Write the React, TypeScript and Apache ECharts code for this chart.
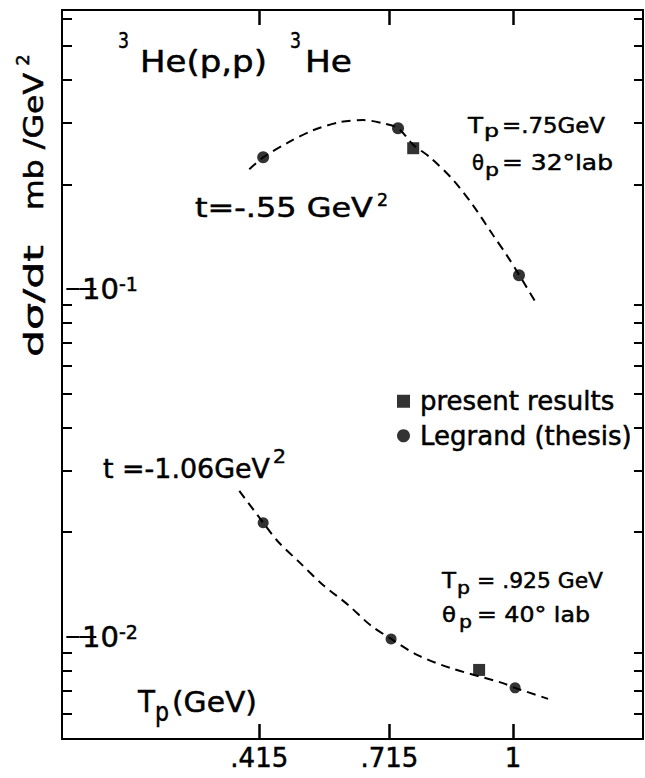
import React, { useEffect, useRef } from 'react';
import * as echarts from 'echarts';

const FONT = '"DejaVu Sans", "Liberation Sans", sans-serif';

// Tp axis (GeV)
const tpMin = -0.04;
const tpMax = 1.3;
const tpTicks = [0.415, 0.715, 1];

// dσ/dt axis (mb/GeV²), logarithmic
const sigmaMin = 0.00509;
const sigmaMax = 0.634;
const sigmaMinorTicks = [
  0.006, 0.007, 0.008, 0.009,
  0.02, 0.03, 0.04, 0.05, 0.06, 0.07, 0.08, 0.09,
  0.2, 0.3, 0.4, 0.5, 0.6,
];
const sigmaLabels = [0.01, 0.1];

// dashed guide curve, t = -.55 GeV²
const curve055Tp = [0.392, 0.424, 0.482, 0.539, 0.602, 0.655, 0.698, 0.735, 0.77, 0.809, 0.862, 0.908, 0.954, 0.986, 1.014, 1.056];
const curve055Sigma = [0.221, 0.239, 0.264, 0.286, 0.302, 0.306, 0.3, 0.29, 0.26, 0.239, 0.206, 0.174, 0.143, 0.125, 0.11, 0.09];

// dashed guide curve, t = -1.06 GeV²
const curve106Tp = [0.369, 0.424, 0.459, 0.509, 0.562, 0.62, 0.671, 0.719, 0.779, 0.855, 0.975, 1.005, 1.081];
const curve106Sigma = [0.0263, 0.0213, 0.01875, 0.01633, 0.01411, 0.01236, 0.01082, 0.00987, 0.00888, 0.00815, 0.00738, 0.00714, 0.00664];

// Legrand (thesis)
const legrandTp = [0.424, 0.735, 1.014, 0.424, 0.719, 1.005];
const legrandSigma = [0.2393, 0.29, 0.1096, 0.0213, 0.00987, 0.00714];

// present results
const presentTp = [0.77, 0.922];
const presentSigma = [0.254, 0.00804];

let measureCtx: CanvasRenderingContext2D | null = null;
function textWidth(s: string, size: number): number {
  if (!measureCtx) measureCtx = document.createElement('canvas').getContext('2d');
  if (!measureCtx) return s.length * size * 0.6;
  measureCtx.font = `${size}px ${FONT}`;
  return measureCtx.measureText(s).width;
}

// text with left edge at x, baseline at y, stretched to a given width
function label(s: string, x: number, baseline: number, size: number, width?: number) {
  const natural = textWidth(s, size);
  return {
    type: 'text',
    x,
    y: baseline - 0.346 * size,
    scaleX: width ? width / natural : 1,
    silent: true,
    style: {
      fill: '#000',
      stroke: '#000',
      lineWidth: 0.5,
      text: s,
      fontSize: size,
      fontFamily: FONT,
      align: 'left',
      verticalAlign: 'middle',
    },
  };
}

// vertical text (reads bottom to top) centred on (cx, cy)
function vlabel(s: string, cx: number, cy: number, size: number, length?: number) {
  const natural = textWidth(s, size);
  return {
    type: 'text',
    x: cx,
    y: cy,
    rotation: Math.PI / 2,
    scaleX: length ? length / natural : 1,
    silent: true,
    style: {
      fill: '#000',
      stroke: '#000',
      lineWidth: 0.5,
      text: s,
      fontSize: size,
      fontFamily: FONT,
      align: 'center',
      verticalAlign: 'middle',
    },
  };
}

const zip = (xs: number[], ys: number[]) => xs.map((x, i) => [x, ys[i]]);

export default function App() {
  const ref = useRef<HTMLDivElement>(null);

  useEffect(() => {
    if (!ref.current) return;
    const chart = echarts.init(ref.current, null, { renderer: 'svg' });

    const axisLine = () => ({ show: true, onZero: false, lineStyle: { color: '#000', width: 2 } });
    const noLine = () => ({ show: false });
    const tpTick = () => ({
      show: true, inside: true, length: 15, customValues: tpTicks,
      lineStyle: { color: '#000', width: 2.5 },
    });
    const minorTick = (len: number) => ({
      show: true, inside: true, length: len, customValues: sigmaMinorTicks,
      lineStyle: { color: '#000', width: 2 },
    });
    const majorTick = (len: number) => ({
      show: true, inside: true, length: len, customValues: sigmaLabels,
      lineStyle: { color: '#000', width: 2 },
    });
    const logAxis = (position: string, line: any, tick: any, extra: any = {}) => ({
      type: 'log',
      position,
      min: sigmaMin,
      max: sigmaMax,
      axisLine: line,
      axisTick: tick,
      splitLine: { show: false },
      axisLabel: { show: false },
      ...extra,
    });

    const option: any = {
      animation: false,
      backgroundColor: '#fff',
      grid: { left: 62, right: 2, top: 10, bottom: 39, containLabel: false, outerBoundsMode: 'none' },
      xAxis: [
        {
          type: 'value',
          position: 'bottom',
          min: tpMin,
          max: tpMax,
          axisLine: axisLine(),
          axisTick: tpTick(),
          splitLine: { show: false },
          axisLabel: {
            show: true,
            customValues: tpTicks,
            margin: 6,
            color: '#000',
            fontSize: 26,
            fontFamily: FONT,
            textBorderColor: '#000',
            textBorderWidth: 0.5,
            formatter: (v: number) => String(v).replace(/^0/, ''),
          },
        },
        {
          type: 'value',
          position: 'top',
          min: tpMin,
          max: tpMax,
          axisLine: axisLine(),
          axisTick: tpTick(),
          splitLine: { show: false },
          axisLabel: { show: false },
        },
      ],
      yAxis: [
        logAxis('left', axisLine(), minorTick(10), {
          axisLabel: {
            show: true,
            inside: true,
            margin: 20,
            customValues: sigmaLabels,
            color: '#000',
            fontFamily: FONT,
            formatter: (v: number) => `{b|10}{s|-${Math.round(-Math.log10(v))}}`,
            rich: {
              b: { fontSize: 29, fontFamily: FONT, color: '#000', textBorderColor: '#000', textBorderWidth: 0.5, verticalAlign: 'bottom', lineHeight: 29 },
              s: { fontSize: 19, fontFamily: FONT, color: '#000', textBorderColor: '#000', textBorderWidth: 0.5, verticalAlign: 'top', lineHeight: 19, padding: [0, 0, 12, 0] },
            },
          },
        }),
        logAxis('right', axisLine(), minorTick(9)),
        logAxis('left', noLine(), majorTick(17)),
        logAxis('right', noLine(), majorTick(13)),
      ],
      legend: {
        show: true,
        orient: 'vertical',
        left: 397,
        top: 388,
        padding: 0,
        itemWidth: 13,
        itemHeight: 13,
        itemGap: 8,
        selectedMode: false,
        data: [
          { name: 'present results', icon: 'rect' },
          { name: 'Legrand (thesis)', icon: 'circle' },
        ],
        textStyle: {
          color: '#000',
          fontSize: 26,
          fontFamily: FONT,
          textBorderColor: '#000',
          textBorderWidth: 0.5,
          padding: [0, 0, 0, 5],
        },
      },
      series: [
        {
          name: 't = -.55',
          type: 'line',
          data: zip(curve055Tp, curve055Sigma),
          smooth: 0.3,
          showSymbol: false,
          symbol: 'none',
          lineStyle: { color: '#000', width: 2, type: [9, 6] },
          z: 1,
        },
        {
          name: 't = -1.06',
          type: 'line',
          data: zip(curve106Tp, curve106Sigma),
          smooth: 0.3,
          showSymbol: false,
          symbol: 'none',
          lineStyle: { color: '#000', width: 2, type: [9, 6] },
          z: 1,
        },
        {
          name: 'Legrand (thesis)',
          type: 'scatter',
          symbol: 'circle',
          symbolSize: (d: number[]) => (d[1] > 0.05 ? 12 : 11),
          itemStyle: { color: '#000' },
          data: zip(legrandTp, legrandSigma),
          z: 3,
        },
        {
          name: 'present results',
          type: 'scatter',
          symbol: 'rect',
          symbolSize: 12,
          itemStyle: { color: '#000' },
          data: zip(presentTp, presentSigma),
          z: 3,
        },
      ],
      graphic: {
        elements: [
          // reaction title
          label('3', 118, 48, 22, 11),
          label('He(p,p)', 140, 72, 30, 127),
          label('3', 290, 48, 22, 11),
          label('He', 305, 72, 30, 47),
          // t = -.55 GeV² curve annotations
          label('t=-.55 GeV', 195, 217, 26, 178),
          label('2', 377, 206, 18, 11),
          label('T', 468, 133, 21, 15),
          label('p', 484, 137, 18, 15),
          label('=.75GeV', 502, 133, 21, 103),
          label('θ', 472, 170, 21, 12),
          label('p', 485, 176, 18, 14),
          label('= 32°lab', 502, 170, 21, 111),
          // t = -1.06 GeV² curve annotations
          label('t =-1.06GeV', 103, 478, 27, 167),
          label('2', 273, 463, 19, 13),
          label('T', 442, 588, 22, 14),
          label('p', 457, 594, 18, 13),
          label('= .925 GeV', 477, 588, 22, 126),
          label('θ', 442, 622, 22, 14),
          label('p', 459, 628, 18, 13),
          label('= 40° lab', 477, 622, 22, 113),
          // x-axis title
          label('T', 138, 712, 31, 17),
          label('p', 155, 721, 26, 14),
          label('(GeV)', 172, 712, 29, 85),
          // y-axis title
          vlabel('mb /GeV', 34, 141.5, 27, 137),
          vlabel('2', 22, 60, 18),
          vlabel('dσ/dt', 34, 301, 27, 112),
        ],
      },
    };

    chart.setOption(option);
    return () => chart.dispose();
  }, []);

  return (
    <div
      ref={ref}
      style={{ position: 'fixed', left: 0, top: 0, width: 645, height: 778, background: '#fff' }}
    />
  );
}
